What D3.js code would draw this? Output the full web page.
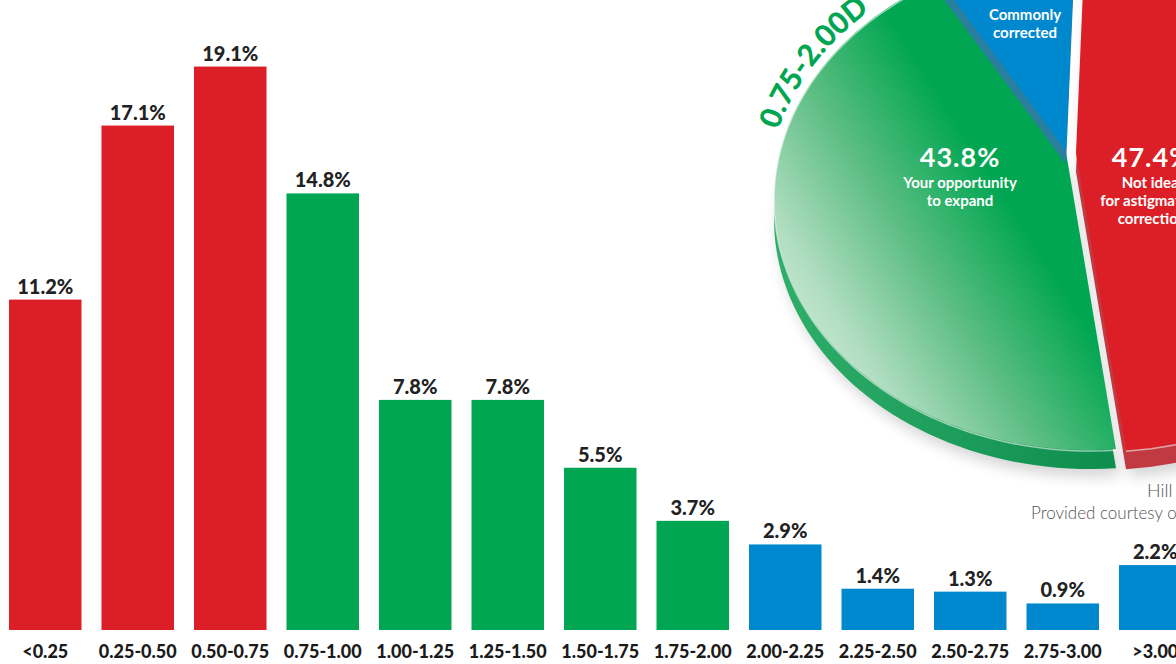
<!DOCTYPE html>
<html><head><meta charset="utf-8">
<script src="https://cdn.jsdelivr.net/npm/d3@7"></script>
<style>html,body{margin:0;padding:0;background:#fff;overflow:hidden}</style>
</head><body>
<svg id="c" width="1176" height="664" xmlns="http://www.w3.org/2000/svg"></svg>
<script>
// ---------- data ----------
const categories = ["<0.25","0.25-0.50","0.50-0.75","0.75-1.00","1.00-1.25","1.25-1.50","1.50-1.75","1.75-2.00","2.00-2.25","2.25-2.50","2.50-2.75","2.75-3.00",">3.00"];
const values = [11.2, 17.1, 19.1, 14.8, 7.8, 7.8, 5.5, 3.7, 2.9, 1.4, 1.3, 0.9, 2.2];
const groups = ["low","low","low","mid","mid","mid","mid","mid","high","high","high","high","high"];
const pieKeys = ["low","mid","high"];
const pieValues = [47.4, 43.8, 8.8];
const pieTitles = [["Not ideal","for astigmatism","correction"],["Your opportunity","to expand"],["Commonly","corrected"]];
const arcLabel = "0.75-2.00D";
const sourceLines = ["Hill", "Provided courtesy of"];

// ---------- style ----------
const colors = {low:"#dc1f26", mid:"#00a651", high:"#0088cf"};
const FONT = "Lato, 'Open Sans', 'DejaVu Sans', sans-serif";
const svg = d3.select("#c");
const defs = svg.append("defs");

// ---------- bars ----------
const x = d3.scaleBand().domain(categories).range([9, 1191.5]).paddingInner(0.2162).paddingOuter(0);
const y = d3.scaleLinear().domain([0, 21.356]).range([630, 0]);

const bars = svg.append("g");
bars.selectAll("rect").data(values).join("rect")
  .attr("x", (d,i) => x(categories[i]))
  .attr("width", x.bandwidth())
  .attr("y", d => y(d))
  .attr("height", d => y(0) - y(d))
  .attr("fill", (d,i) => colors[groups[i]]);

bars.selectAll("text.v").data(values).join("text").attr("class","v")
  .attr("x", (d,i) => x(categories[i]) + x.bandwidth()/2)
  .attr("y", d => y(d) - 6)
  .attr("text-anchor","middle")
  .attr("font-family", FONT).attr("font-weight", 900).attr("font-size", 20)
  .attr("fill", "#222")
  .text(d => d.toFixed(1) + "%");

const xAxis = svg.append("g").attr("transform","translate(0,630)")
  .call(d3.axisBottom(x).tickSize(0).tickPadding(15));
xAxis.select(".domain").remove();
xAxis.selectAll("text").attr("font-family", FONT).attr("font-weight", 900)
  .attr("font-size", 18).attr("fill", "#1a1a1a");

// ---------- pie (perspective) ----------
const E = {cx:1090, cy:200, rx:316, ry:250};
const V = [1066, 152];
const depth = 19;
const p = [(V[0]-E.cx)/E.rx, (V[1]-E.cy)/E.ry];
const t = Math.hypot(p[0], p[1]);
const n = [p[0]/t, p[1]/t];
const g = 1/Math.sqrt(1 - t*t);
function proj(a, r) {
  const q = [r*Math.sin(a), -r*Math.cos(a)];
  const qp = q[0]*n[0] + q[1]*n[1];
  const perp = [q[0]-qp*n[0], q[1]-qp*n[1]];
  const np = g*(qp + t), w = g*(1 + t*qp);
  const X = (np*n[0] + perp[0])/w, Y = (np*n[1] + perp[1])/w;
  return [E.cx + X*E.rx, E.cy + Y*E.ry];
}
const start = 0.026;
const arcs = d3.pie().sort(null).startAngle(start).endAngle(start + 2*Math.PI)(pieValues);
const offsets = {low:[10,1], mid:[0,0], high:[0,-1]};
function arcPts(d, dx, dy) {
  const pts = [];
  const N = 90;
  for (let i = 0; i <= N; i++) pts.push(proj(d.startAngle + (d.endAngle-d.startAngle)*i/N, 1));
  return pts.map(q => [q[0]+dx, q[1]+dy]);
}
function slicePts(d, dx, dy) {
  const c = proj(0,0);
  return [[c[0]+dx, c[1]+dy]].concat(arcPts(d, dx, dy));
}
const closed = d3.line().curve(d3.curveLinearClosed);
const open = d3.line();

// gradients
const gg = defs.append("linearGradient").attr("id","gGreen").attr("gradientUnits","userSpaceOnUse")
  .attr("x1",790).attr("y1",410).attr("x2",1040).attr("y2",250);
[[0,"#e2f4e9"],[0.3,"#b2dec2"],[0.65,"#5bbd82"],[1,"#00a651"]].forEach(s =>
  gg.append("stop").attr("offset", s[0]).attr("stop-color", s[1]));
const gs = defs.append("linearGradient").attr("id","gGreenSide").attr("gradientUnits","userSpaceOnUse")
  .attr("x1",780).attr("y1",0).attr("x2",1100).attr("y2",0);
[[0,"#2fae6a"],[1,"#0e8f4e"]].forEach(s => gs.append("stop").attr("offset", s[0]).attr("stop-color", s[1]));
defs.append("filter").attr("id","blur").attr("x","-20%").attr("y","-20%").attr("width","140%").attr("height","140%")
  .append("feGaussianBlur").attr("stdDeviation", 7);

const pie = svg.append("g");
const sideColor = {low:"#c23a41", mid:"url(#gGreenSide)", high:"#2a7f9e"};
const topColor = {low:colors.low, mid:"url(#gGreen)", high:colors.high};

// shadow
arcs.forEach((d,i) => {
  const k = pieKeys[i], o = offsets[k];
  if (k === "high") return;
  pie.append("path").attr("d", closed(slicePts(d, o[0]+4, o[1]+depth+8)))
    .attr("fill","#000").attr("opacity",0.16).attr("filter","url(#blur)");
});
// sides of red and green
arcs.forEach((d,i) => {
  const k = pieKeys[i], o = offsets[k];
  if (k === "high") return;
  pie.append("path").attr("d", closed(slicePts(d, o[0], o[1]+depth))).attr("fill", sideColor[k]);
});
// tops of red and green
arcs.forEach((d,i) => {
  const k = pieKeys[i], o = offsets[k];
  if (k === "high") return;
  pie.append("path").attr("d", closed(slicePts(d, o[0], o[1]))).attr("fill", topColor[k]);
  pie.append("path").attr("d", open(arcPts(d, o[0], o[1]+1)))
    .attr("fill","none").attr("stroke","#fff").attr("stroke-opacity",0.55).attr("stroke-width",1.5);
});
// blue (raised) with its side band
arcs.forEach((d,i) => {
  const k = pieKeys[i], o = offsets[k];
  if (k !== "high") return;
  pie.append("path").attr("d", closed(slicePts(d, o[0], o[1]+13))).attr("fill", sideColor[k]);
  pie.append("path").attr("d", closed(slicePts(d, o[0], o[1]))).attr("fill", topColor[k]);
});

// curved label along the rim
const a0 = -111.5*Math.PI/180, a1 = -11.5*Math.PI/180, tr = 8;
const ep = a => [E.cx + (E.rx+tr)*Math.sin(a), E.cy - (E.ry+tr)*Math.cos(a)];
const P0 = ep(a0), P1 = ep(a1);
defs.append("path").attr("id","rimPath")
  .attr("d", `M${P0[0]},${P0[1]} A${E.rx+tr},${E.ry+tr} 0 0 1 ${P1[0]},${P1[1]}`);
svg.append("text").attr("font-family", FONT).attr("font-weight", 900).attr("font-size", 30)
  .attr("fill", colors.mid)
  .append("textPath").attr("href","#rimPath").attr("startOffset","50%").attr("text-anchor","middle")
  .text(arcLabel);

// slice labels
const labelPos = {low:[1152,167], mid:[960,167], high:[1025,20]};
arcs.forEach((d,i) => {
  const k = pieKeys[i];
  const [lx, ly] = labelPos[k];
  const gl = svg.append("g").attr("font-family", FONT).attr("font-weight", 700)
    .attr("fill", "#fff").attr("text-anchor","middle");
  let yy = ly;
  if (k !== "high") {
    gl.append("text").attr("x", lx).attr("y", yy).attr("font-size", 27).attr("letter-spacing", 1)
      .text(pieValues[i].toFixed(1) + "%");
    yy += 21;
  }
  pieTitles[i].forEach((s, j) => {
    gl.append("text").attr("x", lx).attr("y", yy + j*18).attr("font-size", 15).text(s);
  });
});

// source text
svg.append("text").attr("x", 1147).attr("y", 497).attr("font-family", FONT).attr("font-weight", 300)
  .attr("font-size", 18).attr("fill", "#555").text(sourceLines[0]);
svg.append("text").attr("x", 1031).attr("y", 519).attr("font-family", FONT).attr("font-weight", 300)
  .attr("font-size", 17).attr("fill", "#555").text(sourceLines[1]);
</script>
</body></html>
